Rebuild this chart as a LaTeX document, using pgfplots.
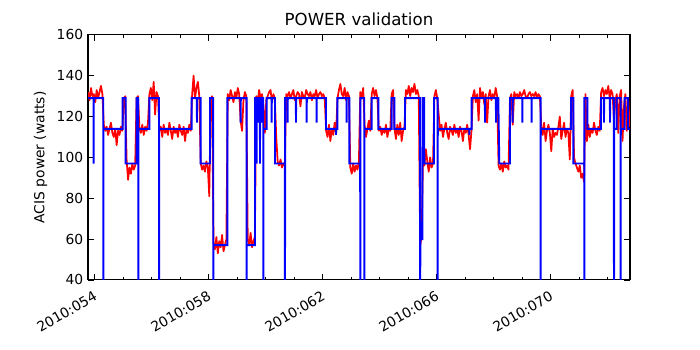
\documentclass[border=0pt]{standalone}
\usepackage{fontspec}
\setmainfont{DejaVu Sans}
\usepackage{pgfplots}
\usepackage{pgfplotstable}
\pgfplotsset{compat=1.18}

% measured ACIS power, one sample every 0.05 day from 2010:053.77
\pgfplotstableread[row sep=\\]{
p\\
132\\128\\134\\130\\131\\127\\133\\129\\132\\135\\131\\
116\\113\\115\\111\\114\\117\\112\\110\\114\\106\\113\\111\\115\\113\\
128\\130\\
99\\89\\95\\92\\97\\94\\96\\
129\\130\\
114\\112\\116\\111\\115\\113\\117\\
131\\134\\128\\137\\121\\132\\130\\
113\\115\\110\\116\\112\\114\\111\\117\\113\\109\\115\\112\\114\\110\\116\\113\\111\\115\\108\\114\\112\\116\\113\\
131\\140\\129\\134\\137\\130\\
97\\94\\96\\93\\98\\95\\81\\
128\\130\\
58\\55\\61\\53\\59\\56\\62\\54\\57\\60\\
131\\128\\133\\130\\127\\132\\129\\134\\131\\118\\113\\128\\132\\130\\
60\\57\\63\\56\\59\\61\\
130\\127\\133\\129\\131\\125\\112\\128\\130\\132\\133\\127\\131\\129\\
110\\98\\96\\99\\95\\97\\96\\
131\\130\\132\\129\\131\\133\\128\\130\\132\\131\\125\\132\\130\\129\\133\\131\\130\\132\\128\\131\\130\\133\\129\\131\\132\\130\\131\\129\\
113\\110\\116\\108\\114\\111\\117\\112\\
129\\133\\136\\131\\130\\134\\128\\132\\130\\
95\\92\\97\\93\\96\\94\\98\\
132\\129\\134\\
116\\110\\114\\118\\113\\
131\\134\\130\\133\\129\\
113\\115\\111\\114\\112\\116\\110\\114\\113\\
131\\133\\
114\\109\\116\\111\\117\\108\\113\\115\\
133\\131\\135\\130\\134\\132\\136\\131\\133\\130\\
57\\61\\99\\
96\\104\\98\\93\\100\\95\\97\\
130\\133\\129\\
121\\113\\116\\110\\114\\117\\112\\109\\115\\113\\111\\116\\112\\114\\110\\115\\113\\108\\114\\112\\116\\111\\104\\113\\
130\\133\\127\\131\\118\\134\\129\\132\\126\\131\\117\\130\\133\\128\\131\\129\\134\\130\\
96\\94\\97\\93\\98\\95\\96\\94\\
129\\131\\116\\132\\130\\131\\129\\132\\130\\131\\133\\130\\129\\131\\132\\130\\131\\130\\132\\129\\131\\130\\
115\\111\\117\\108\\113\\116\\112\\103\\114\\110\\112\\111\\115\\120\\109\\113\\117\\110\\114\\112\\99\\
130\\133\\
100\\97\\95\\93\\96\\90\\92\\88\\
131\\108\\
116\\110\\114\\112\\117\\113\\111\\115\\113\\
132\\134\\130\\133\\131\\135\\129\\133\\131\\
118\\128\\131\\112\\130\\133\\108\\125\\131\\113\\129\\115\\
}\measured

\begin{document}
\begin{tikzpicture}
\useasboundingbox (0,0) rectangle (505.9pt,252.9pt);
\begin{axis}[
  at={(63.6pt,50.6pt)}, anchor=south west,
  scale only axis, width=391.7pt, height=177.1pt,
  xmin=53.765, xmax=72.782, ymin=40, ymax=160,
  xtick={54,58,62,66,70},
  xticklabels={2010:054,2010:058,2010:062,2010:066,2010:070},
  minor xtick={55,56,57,59,60,61,63,64,65,67,68,69,71,72},
  ytick={40,60,80,100,120,140,160},
  tick align=inside,
  major tick length=4.3pt, minor tick length=2.2pt,
  every tick/.style={black, line width=0.6pt},
  axis line style={line width=0.8pt},
  tick label style={font=\fontsize{10}{12}\selectfont},
  xticklabel style={rotate=30, anchor=north east, yshift=-2.5pt, xshift=-1.5pt},
  /pgf/number format/assume math mode=true,
  ylabel={ACIS power (watts)},
  label style={font=\fontsize{10}{12}\selectfont},
  title={POWER validation},
  title style={font=\fontsize{12}{14}\selectfont, yshift=-3pt},
]
\addplot[red, line width=1.25pt, line join=round] table[x expr=\coordindex*0.05+53.77, y=p] {\measured};
\addplot[blue, line width=1.4pt] coordinates {
(53.765,129) (53.962,129) (53.965,97) (53.968,129)
(54.300,129) (54.303,0) (54.306,114)
(54.982,114) (54.982,129) (55.088,129) (55.088,97)
(55.474,97) (55.474,129) (55.527,129) (55.530,0) (55.533,114)
(55.916,114) (55.916,129) (56.256,129) (56.259,0) (56.262,114)
(57.404,114) (57.404,129) (57.586,129) (57.589,117) (57.592,129) (57.719,129) (57.719,97)
(58.046,97) (58.046,129) (58.158,129) (58.161,0) (58.164,57)
(58.653,57) (58.653,129) (59.120,129) (59.123,117) (59.126,129) (59.330,129) (59.333,0) (59.336,57)
(59.625,57) (59.625,129) (59.681,129) (59.684,97) (59.687,129) (59.737,129) (59.740,117) (59.743,129)
(59.797,129) (59.800,97) (59.803,129) (59.857,129) (59.860,117) (59.863,129)
(59.913,129) (59.916,0) (59.919,114) (60.035,114) (60.035,129) (60.208,129) (60.211,117) (60.214,129)
(60.326,129) (60.326,97)
(60.674,97) (60.677,0) (60.680,129)
(60.769,129) (60.772,117) (60.775,129) (61.060,129) (61.063,117) (61.066,129)
(61.436,129) (61.439,117) (61.442,129) (61.786,129) (61.789,117) (61.792,129)
(62.116,129) (62.116,114) (62.464,114) (62.467,111) (62.470,114) (62.512,114) (62.512,129)
(62.839,129) (62.842,117) (62.845,129) (62.933,129) (62.933,97)
(63.316,97) (63.319,0) (63.322,129) (63.457,129) (63.460,0) (63.463,114)
(63.719,114) (63.719,129) (63.951,129) (63.951,114) (64.421,114) (64.421,129) (64.512,129) (64.512,114)
(64.888,114) (64.888,129)
(65.414,129) (65.420,0) (65.425,60) (65.500,60) (65.505,129) (65.560,129) (65.565,97)
(65.905,97) (65.905,129) (66.032,129) (66.035,0) (66.038,114)
(67.141,114) (67.144,111) (67.147,114) (67.228,114) (67.228,129) (67.692,129) (67.695,117) (67.698,129)
(68.078,129) (68.081,117) (68.084,129) (68.161,129) (68.196,97) (68.572,97) (68.572,129)
(68.664,129) (68.667,117) (68.670,129) (69.001,129) (69.004,117) (69.007,129)
(69.330,129) (69.333,117) (69.336,129)
(69.646,129) (69.649,0) (69.652,114) (70.712,114) (70.712,129) (70.793,129) (70.793,97)
(71.176,97) (71.179,0) (71.182,129) (71.284,129) (71.284,114) (71.765,114) (71.765,129)
(71.867,129) (71.870,117) (71.873,129) (72.078,129) (72.081,117) (72.084,129)
(72.218,129) (72.221,0) (72.224,114) (72.316,114) (72.316,129) (72.453,129) (72.456,0) (72.459,114)
(72.596,114) (72.596,129) (72.712,129) (72.712,114) (72.782,114)
};
\end{axis}
\end{tikzpicture}
\end{document}
